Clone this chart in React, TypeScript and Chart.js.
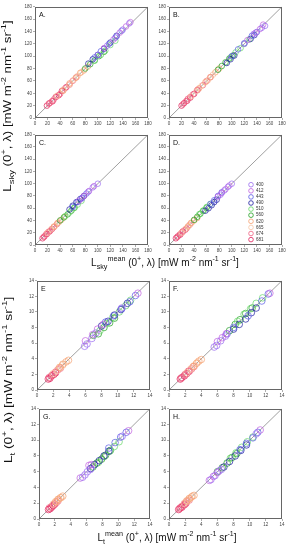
import React, { useEffect, useRef } from "react";
import { Chart, registerables } from "chart.js";
Chart.register(...registerables);

const WAVELENGTHS = ["400", "412", "443", "490", "510", "560", "620", "665", "674", "681"];
const COLORS = ["#9a6cf0", "#c060e0", "#5a5ae6", "#1c1ca0", "#66d966", "#22a022", "#f5a070", "#f8c4a4", "#f06080", "#e0205a"];
const SKY_MAX = 180;
const SKY_STEP = 20;
const LT_MAX = 14;
const LT_STEP = 2;

// [x, y] pairs, one list per wavelength (400 ... 681)
const panelA: number[][][] = [
  [[100, 102], [115, 117], [130, 132], [140, 143], [150, 153]],
  [[110, 113], [125, 127], [135, 138], [145, 148], [152, 155]],
  [[95, 98], [105, 108], [118, 120], [128, 130], [138, 141]],
  [[85, 88], [92, 95], [100, 102], [110, 112], [120, 122], [130, 133]],
  [[95, 93], [105, 102], [112, 109], [120, 118], [128, 125]],
  [[80, 80], [88, 87], [95, 93], [102, 100], [110, 107]],
  [[45, 44], [55, 56], [65, 65], [72, 73], [78, 77], [84, 83]],
  [[35, 36], [45, 46], [55, 54], [62, 62], [68, 68], [74, 74]],
  [[22, 23], [27, 27], [30, 30], [35, 35], [40, 39], [48, 48], [55, 54], [60, 60], [66, 66]],
  [[19, 20], [23, 24], [28, 27], [33, 34], [38, 37], [43, 44], [50, 50]],
];
const panelB: number[][][] = [
  [[120, 120], [135, 136], [148, 146], [153, 149]],
  [[125, 126], [138, 138], [145, 144], [150, 151]],
  [[100, 100], [110, 111], [120, 121], [132, 133], [140, 139]],
  [[92, 89], [98, 95], [104, 101], [130, 128], [136, 134]],
  [[98, 98], [106, 106], [114, 113], [120, 120], [128, 127]],
  [[78, 78], [84, 84], [90, 90], [96, 96], [102, 101]],
  [[48, 48], [58, 58], [66, 66], [74, 74], [80, 80]],
  [[35, 35], [44, 44], [52, 52], [62, 61], [70, 70]],
  [[22, 22], [27, 27], [30, 31], [34, 34], [38, 38], [46, 46], [54, 53], [60, 60], [66, 66]],
  [[20, 20], [24, 24], [29, 28], [34, 33], [40, 39], [45, 45]],
];
const panelC: number[][][] = [
  [[75, 76], [85, 87], [92, 94], [100, 100]],
  [[70, 72], [78, 80], [86, 88], [94, 96]],
  [[60, 62], [68, 70], [75, 77], [82, 84]],
  [[55, 58], [60, 64], [66, 70], [72, 75], [78, 80]],
  [[48, 47], [55, 53], [62, 60], [68, 66], [74, 72]],
  [[40, 40], [46, 45], [52, 50], [58, 56], [63, 61]],
  [[30, 30], [36, 36], [42, 41], [47, 46]],
  [[20, 20], [26, 26], [32, 31], [38, 37]],
  [[14, 13], [18, 18], [21, 21], [24, 23], [30, 29], [35, 34]],
  [[12, 11], [15, 14], [19, 18], [23, 22], [27, 26]],
];
const panelD: number[][][] = [
  [[82, 82], [88, 89], [94, 95], [100, 100]],
  [[78, 79], [84, 85], [90, 91], [96, 97]],
  [[66, 67], [72, 73], [78, 80], [84, 86]],
  [[58, 56], [63, 60], [68, 65], [72, 70], [76, 74]],
  [[48, 50], [54, 56], [60, 62], [66, 67]],
  [[40, 41], [45, 46], [50, 51], [55, 56], [60, 61]],
  [[30, 30], [35, 36], [40, 40], [45, 44]],
  [[20, 20], [26, 26], [31, 31], [36, 36]],
  [[13, 13], [17, 17], [20, 20], [22, 22], [28, 27], [33, 33]],
  [[11, 11], [14, 14], [18, 17], [22, 22], [26, 25]],
];
const panelE: number[][][] = [
  [[5.9, 5.6], [6.2, 5.9], [6.8, 6.6], [7.3, 7.3], [10.5, 10.5]],
  [[6.0, 6.3], [6.9, 7.1], [7.5, 7.8], [8.2, 8.4], [12.5, 12.4]],
  [[8.5, 8.7], [9.5, 9.5], [10.5, 10.4], [11.5, 11.3], [12.2, 12.1]],
  [[8.0, 8.2], [8.8, 8.8], [9.6, 9.6], [10.4, 10.3], [11.2, 11.1]],
  [[7.8, 7.6], [8.6, 8.5], [9.4, 9.3], [10.2, 10.0], [11.0, 10.8], [11.6, 11.5]],
  [[7.0, 7.0], [7.6, 7.2], [8.3, 8.0], [9.0, 8.6], [9.6, 9.2]],
  [[2.8, 2.9], [3.2, 3.3], [3.6, 3.6], [3.9, 3.8]],
  [[2.0, 2.1], [2.5, 2.5], [2.9, 2.9], [3.2, 3.2]],
  [[1.5, 1.6], [1.9, 1.9], [2.3, 2.3], [2.6, 2.6], [2.9, 2.8]],
  [[1.4, 1.4], [1.6, 1.5], [1.8, 1.8], [2.1, 2.0], [2.3, 2.2]],
];
const panelF: number[][][] = [
  [[5.6, 5.5], [5.9, 5.7], [6.4, 6.3], [7.0, 6.9]],
  [[6.0, 6.2], [6.6, 6.7], [7.1, 7.2], [12.5, 12.4]],
  [[7.2, 7.2], [8.0, 8.0], [9.8, 9.5], [11.5, 11.4], [12.3, 12.3]],
  [[8.0, 7.8], [8.7, 8.4], [9.5, 9.1], [10.2, 9.9], [10.8, 10.5]],
  [[8.5, 8.8], [9.3, 9.7], [10.1, 10.4], [10.8, 11.1], [11.6, 11.8]],
  [[7.5, 7.6], [8.2, 8.4], [8.8, 9.0], [9.5, 9.8], [10.3, 10.5]],
  [[3.0, 3.0], [3.4, 3.4], [3.7, 3.7], [4.0, 3.9]],
  [[2.2, 2.2], [2.7, 2.7], [3.1, 3.1], [3.5, 3.5]],
  [[1.5, 1.5], [2.0, 2.0], [2.4, 2.4], [2.8, 2.7], [3.1, 3.0]],
  [[1.4, 1.4], [1.6, 1.6], [1.9, 1.8], [2.2, 2.1], [2.5, 2.4]],
];
const panelG: number[][][] = [
  [[5.5, 5.3], [5.8, 5.6], [6.1, 6.0], [6.5, 6.3], [10.5, 10.5]],
  [[5.2, 5.2], [6.3, 6.8], [6.6, 6.9], [11.3, 11.2]],
  [[8.8, 9.0], [9.6, 9.7], [10.3, 10.4], [11.0, 11.0]],
  [[6.5, 6.4], [7.0, 6.9], [7.6, 7.4], [8.2, 8.0], [8.8, 8.6]],
  [[7.5, 7.2], [8.2, 7.9], [8.9, 8.6], [9.5, 9.2], [10.1, 9.8]],
  [[6.8, 6.6], [7.3, 7.1], [7.9, 7.6], [8.4, 8.1], [9.0, 8.7]],
  [[2.1, 2.2], [2.4, 2.5], [2.7, 2.7], [3.0, 2.9]],
  [[1.8, 1.9], [2.2, 2.2], [2.5, 2.5], [2.8, 2.7]],
  [[1.3, 1.4], [1.6, 1.6], [1.9, 1.9], [2.2, 2.1], [2.4, 2.3]],
  [[1.2, 1.2], [1.4, 1.3], [1.6, 1.5], [1.8, 1.7], [2.0, 1.9]],
];
const panelH: number[][][] = [
  [[5.2, 5.0], [5.7, 5.5], [6.2, 6.1], [6.5, 6.3], [10.8, 10.8]],
  [[5.0, 4.9], [5.5, 5.4], [6.0, 5.9], [11.3, 11.3]],
  [[8.8, 8.8], [9.6, 9.6], [10.4, 10.3], [11.0, 11.0]],
  [[6.8, 6.6], [7.5, 7.3], [8.2, 8.0], [8.9, 8.7], [9.6, 9.4]],
  [[7.6, 7.7], [8.3, 8.4], [9.0, 9.1], [9.7, 9.8], [10.4, 10.4]],
  [[6.0, 6.0], [6.6, 6.5], [7.2, 7.1], [7.8, 7.8], [8.4, 8.3]],
  [[2.2, 2.3], [2.5, 2.6], [2.8, 2.8], [3.1, 3.0]],
  [[1.9, 2.0], [2.3, 2.3], [2.6, 2.6], [2.9, 2.9]],
  [[1.3, 1.3], [1.6, 1.6], [1.9, 1.9], [2.2, 2.2], [2.5, 2.4]],
  [[1.2, 1.2], [1.4, 1.4], [1.6, 1.5], [1.9, 1.8], [2.1, 2.0]],
];

const PAD_L = 24;
const PAD_T = 4;
const PAD_R = 6;
const PAD_B = 12;
const FONT = "Arial, 'Liberation Sans', sans-serif";

type PanelProps = {
  data: number[][][];
  max: number;
  step: number;
  label: string;
  left: number;
  top: number;
  w: number;
  h: number;
  radius: number;
  legend?: boolean;
};

function Panel({ data, max, step, label, left, top, w, h, radius, legend }: PanelProps) {
  const ref = useRef<HTMLCanvasElement>(null);
  useEffect(() => {
    if (!ref.current) return;
    const datasets: any[] = data.map((pts, i) => ({
      label: WAVELENGTHS[i],
      data: pts.map(([x, y]) => ({ x, y })),
      borderColor: COLORS[i],
      backgroundColor: "rgba(0,0,0,0)",
      pointRadius: radius,
      pointBorderWidth: 0.7,
      showLine: false,
      order: 0,
    }));
    datasets.push({
      label: "1:1",
      data: [{ x: 0, y: 0 }, { x: max, y: max }],
      showLine: true,
      borderColor: "#a0a0a0",
      borderWidth: 1,
      pointRadius: 0,
      order: 1,
    });
    const tickFont = { size: 4.5, family: FONT };
    const grid = { drawOnChartArea: false, drawTicks: true, tickLength: 2, color: "#777", lineWidth: 0.6 };
    const framePlugin = {
      id: "frame",
      afterDraw(chart: any) {
        const { ctx, chartArea: a } = chart;
        ctx.save();
        ctx.strokeStyle = "#666";
        ctx.lineWidth = 1;
        ctx.strokeRect(Math.round(a.left) + 0.5, Math.round(a.top) + 0.5, Math.round(a.right - a.left) - 1, Math.round(a.bottom - a.top) - 1);
        ctx.fillStyle = "#111";
        ctx.font = `7px ${FONT}`;
        ctx.textBaseline = "middle";
        ctx.textAlign = "left";
        ctx.fillText(label, a.left + 4, a.top + 8);
        if (legend) {
          ctx.font = `4.5px ${FONT}`;
          ctx.lineWidth = 0.8;
          WAVELENGTHS.forEach((wl, i) => {
            const cy = a.top + 50 + i * 6.1;
            const cx = a.left + 82;
            ctx.strokeStyle = COLORS[i];
            ctx.beginPath();
            ctx.arc(cx, cy, 2.3, 0, Math.PI * 2);
            ctx.stroke();
            ctx.fillStyle = "#333";
            ctx.fillText(wl, cx + 5, cy);
          });
        }
        ctx.restore();
      },
    };
    const chart = new Chart(ref.current, {
      type: "scatter",
      data: { datasets },
      options: {
        animation: false,
        responsive: false,
        devicePixelRatio: 1,
        layout: { padding: { left: 0, top: PAD_T, right: PAD_R, bottom: 0 } },
        plugins: { legend: { display: false }, tooltip: { enabled: false } },
        scales: {
          x: {
            type: "linear",
            min: 0,
            max,
            ticks: { stepSize: step, font: tickFont, color: "#444", padding: 1, maxRotation: 0, autoSkip: false },
            grid,
            border: { display: false },
            afterFit: (s: any) => { s.height = PAD_B; },
          },
          y: {
            type: "linear",
            min: 0,
            max,
            ticks: { stepSize: step, font: tickFont, color: "#444", padding: 1, autoSkip: false },
            grid,
            border: { display: false },
            afterFit: (s: any) => { s.width = PAD_L; },
          },
        },
      } as any,
      plugins: [framePlugin],
    });
    return () => chart.destroy();
  }, []);
  const cw = w + PAD_L + PAD_R;
  const ch = h + PAD_T + PAD_B;
  return (
    <canvas
      ref={ref}
      width={cw}
      height={ch}
      style={{ position: "absolute", left: left - PAD_L, top: top - PAD_T, width: cw, height: ch }}
    />
  );
}

const units = (
  <>
    [mW m<sup style={{ fontSize: "0.7em" }}>-2</sup> nm<sup style={{ fontSize: "0.7em" }}>-1</sup> sr<sup style={{ fontSize: "0.7em" }}>-1</sup>]
  </>
);
const subStyle = { fontSize: "0.72em" };
const supStyle = { fontSize: "0.72em" };

function YTitle({ cx, cy, sub, scale }: { cx: number; cy: number; sub: string; scale: number }) {
  return (
    <div
      style={{
        position: "absolute",
        left: cx,
        top: cy,
        transform: `translate(-50%, -50%) rotate(-90deg) scaleX(${scale})`,
        whiteSpace: "nowrap",
        fontFamily: FONT,
        fontSize: 11,
        lineHeight: "12px",
        color: "#111",
      }}
    >
      L<sub style={subStyle}>{sub}</sub> (0<sup style={supStyle}>+</sup>, λ) {units}
    </div>
  );
}

function XTitle({ cx, cy, sub }: { cx: number; cy: number; sub: string }) {
  return (
    <div
      style={{
        position: "absolute",
        left: cx,
        top: cy,
        transform: "translate(-50%, -50%)",
        whiteSpace: "nowrap",
        fontFamily: FONT,
        fontSize: 10,
        lineHeight: "12px",
        color: "#111",
      }}
    >
      L<sub style={subStyle}>{sub}</sub>
      <sup style={supStyle}>mean</sup> (0<sup style={supStyle}>+</sup>, λ) {units}
    </div>
  );
}

export default function App() {
  return (
    <div style={{ position: "absolute", left: 0, top: 0, width: 292, height: 550, background: "#fff", overflow: "hidden" }}>
      <Panel data={panelA} max={SKY_MAX} step={SKY_STEP} label="A." left={35} top={6} w={113} h={112} radius={2.8} />
      <Panel data={panelB} max={SKY_MAX} step={SKY_STEP} label="B." left={169} top={6} w={113} h={112} radius={2.8} />
      <Panel data={panelC} max={SKY_MAX} step={SKY_STEP} label="C." left={35} top={134} w={113} h={111} radius={2.8} />
      <Panel data={panelD} max={SKY_MAX} step={SKY_STEP} label="D." left={169} top={134} w={113} h={111} radius={2.8} legend />
      <Panel data={panelE} max={LT_MAX} step={LT_STEP} label="E" left={37} top={280} w={113} h={110} radius={3.3} />
      <Panel data={panelF} max={LT_MAX} step={LT_STEP} label="F." left={169} top={280} w={113} h={110} radius={3.3} />
      <Panel data={panelG} max={LT_MAX} step={LT_STEP} label="G." left={39} top={408} w={111} h={111} radius={3.3} />
      <Panel data={panelH} max={LT_MAX} step={LT_STEP} label="H." left={169} top={408} w={113} h={111} radius={3.3} />
      <YTitle cx={8} cy={106} sub="sky" scale={1.2} />
      <YTitle cx={9} cy={380} sub="t" scale={1.25} />
      <XTitle cx={165} cy={263} sub="sky" />
      <XTitle cx={167} cy={538} sub="t" />
    </div>
  );
}
